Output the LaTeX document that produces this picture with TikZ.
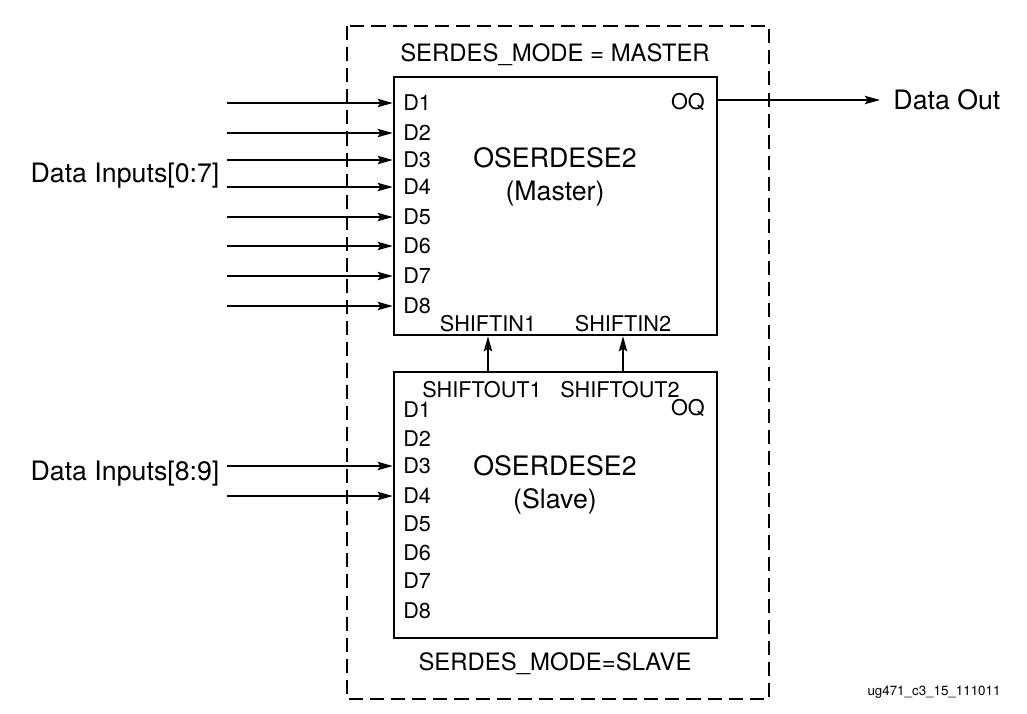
\documentclass[tikz,border=0pt]{standalone}
\usepackage{fontspec}
\setmainfont{TeX Gyre Heros}
\usetikzlibrary{arrows.meta, positioning}

\begin{document}
\begin{tikzpicture}[
    x=0.025cm, y=-0.025cm,
    block/.style={rectangle, draw, line width=1.7pt, minimum width=8.075cm, inner sep=0pt},
    pintext/.style={font=\fontsize{15.4}{17}\selectfont, inner sep=0pt},
    sigtext/.style={font=\fontsize{19}{21}\selectfont, inner sep=0pt},
    modetext/.style={font=\fontsize{17}{19}\selectfont, inner sep=0pt},
    arrow/.style={line width=0.9pt, -{Stealth[length=3.8mm, width=2.1mm, inset=0.7mm]}}
]
    \useasboundingbox (0,0) rectangle (1027,713);

    % dashed frame
    \draw [line width=0.8pt, dash pattern=on 10pt off 5pt] (347,26) rectangle (769,699);

    \node (master) [block, minimum height=6.45cm] at (555.5,206) {};
    \node (slave) [block, minimum height=6.65cm] at (555.5,505) {};

    \node (mtitle) [modetext] at (555,55) {SERDES\_MODE = MASTER};
    \node (stitle) [modetext] at (555,664) {SERDES\_MODE=SLAVE};

    \node (mname) [sigtext] at (555,158) {OSERDESE2};
    \node (mrole) [sigtext, below=0.3cm of mname] {(Master)};
    \node (sname) [sigtext] at (555,466) {OSERDESE2};
    \node (srole) [sigtext, below=0.3cm of sname] {(Slave)};

    % master pins
    \node (m1) [pintext, anchor=west] at (403,103) {D1};
    \node (m2) [pintext, anchor=west] at (403,133) {D2};
    \node (m3) [pintext, anchor=west] at (403,160) {D3};
    \node (m4) [pintext, anchor=west] at (403,187) {D4};
    \node (m5) [pintext, anchor=west] at (403,217) {D5};
    \node (m6) [pintext, anchor=west] at (403,246) {D6};
    \node (m7) [pintext, anchor=west] at (403,276) {D7};
    \node (m8) [pintext, anchor=west] at (403,306) {D8};
    \node (moq) [pintext, anchor=east] at (705,102) {OQ};
    \node (sin1) [pintext] at (488,324) {SHIFTIN1};
    \node (sin2) [pintext] at (623,324) {SHIFTIN2};

    % slave pins
    \node (s1) [pintext, anchor=west] at (403,410) {D1};
    \node (s2) [pintext, anchor=west] at (403,439) {D2};
    \node (s3) [pintext, anchor=west] at (403,466) {D3};
    \node (s4) [pintext, anchor=west] at (403,496) {D4};
    \node (s5) [pintext, anchor=west] at (403,524) {D5};
    \node (s6) [pintext, anchor=west] at (403,553) {D6};
    \node (s7) [pintext, anchor=west] at (403,581) {D7};
    \node (s8) [pintext, anchor=west] at (403,611) {D8};
    \node (soq) [pintext, anchor=east] at (705,408) {OQ};
    \node (sout1) [pintext] at (482,390) {SHIFTOUT1};
    \node (sout2) [pintext] at (620,390) {SHIFTOUT2};

    \node (din07) [sigtext] at (125,176) {Data Inputs[0:7]};
    \node (din89) [sigtext] at (125,474) {Data Inputs[8:9]};

    \coordinate (in1) at (227,103);
    \coordinate (in2) at (227,133);
    \coordinate (in3) at (227,160);
    \coordinate (in4) at (227,187);
    \coordinate (in5) at (227,217);
    \coordinate (in6) at (227,246);
    \coordinate (in7) at (227,276);
    \coordinate (in8) at (227,306);
    \coordinate (in9) at (227,466);
    \coordinate (in10) at (227,496);
    \coordinate (dout) at (880,100);
    \node (doutlbl) [sigtext, anchor=west, right=0.33cm of dout] {Data Out};

    \draw [arrow] (in1) -- (in1 -| master.west);
    \draw [arrow] (in2) -- (in2 -| master.west);
    \draw [arrow] (in3) -- (in3 -| master.west);
    \draw [arrow] (in4) -- (in4 -| master.west);
    \draw [arrow] (in5) -- (in5 -| master.west);
    \draw [arrow] (in6) -- (in6 -| master.west);
    \draw [arrow] (in7) -- (in7 -| master.west);
    \draw [arrow] (in8) -- (in8 -| master.west);
    \draw [arrow] (in9) -- (in9 -| slave.west);
    \draw [arrow] (in10) -- (in10 -| slave.west);
    \draw [arrow] (master.east |- dout) -- (dout);
    \draw [arrow] (slave.north -| sin1) -- (master.south -| sin1);
    \draw [arrow] (slave.north -| sin2) -- (master.south -| sin2);

    \node (figid) [font=\fontsize{9.5}{11}\selectfont, inner sep=0pt] at (934,692) {ug471\_c3\_15\_111011};
\end{tikzpicture}
\end{document}
